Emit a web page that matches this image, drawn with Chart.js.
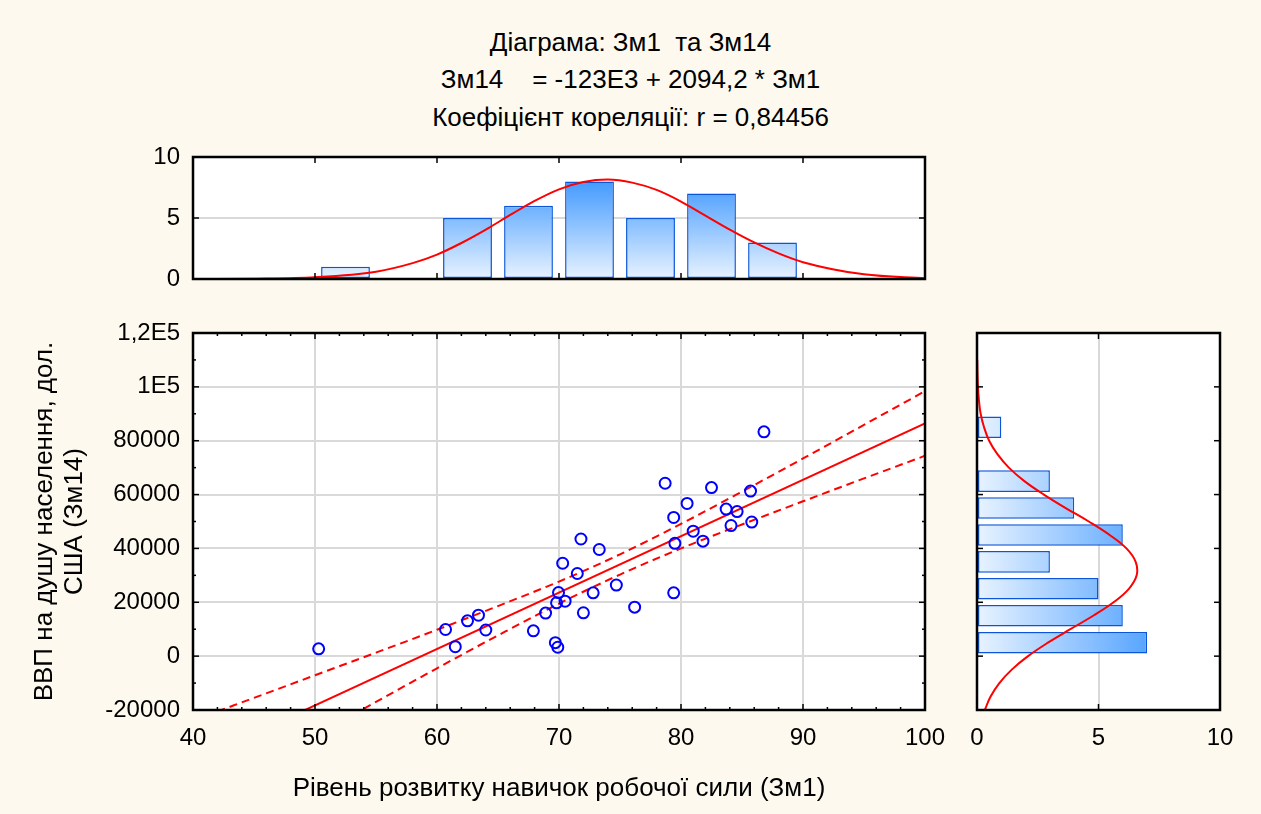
<!DOCTYPE html>
<html>
<head>
<meta charset="utf-8">
<script src="https://cdn.jsdelivr.net/npm/chart.js@4/dist/chart.umd.min.js"></script>
<style>
  html, body { margin: 0; padding: 0; background: #fdf9ee; }
  #page { position: relative; width: 1261px; height: 814px; overflow: hidden;
          font-family: 'Liberation Sans', Arial, sans-serif; }
  .ttl { position: absolute; left: 0; width: 1261px; text-align: center;
         font-size: 26px; line-height: 30px; white-space: pre; color: #000; }
  canvas { position: absolute; }
</style>
</head>
<body>
<div id="page">
  <div class="ttl" style="top:27px">Діаграма: Зм1  та Зм14</div>
  <div class="ttl" style="top:64px">Зм14    = -123E3 + 2094,2 * Зм1</div>
  <div class="ttl" style="top:102px">Коефіцієнт кореляції: r = 0,84456</div>
  <canvas id="topHist" width="960" height="170" style="left:0;top:130px;width:960px;height:170px"></canvas>
  <canvas id="scatter" width="960" height="514" style="left:0;top:300px;width:960px;height:514px"></canvas>
  <canvas id="sideHist" width="301" height="514" style="left:960px;top:300px;width:301px;height:514px"></canvas>
</div>
<script>
// --- scatter points (Зм1, Зм14) ---
const zm1 = [50.3, 60.7, 61.5, 62.5, 63.4, 64.0, 67.9, 68.9, 69.7, 69.9, 69.96, 69.8, 70.5, 70.3, 71.5,
             71.8, 72.0, 72.8, 73.3, 74.7, 76.2, 78.7, 79.4, 79.4, 79.5, 80.5, 81.0, 81.8, 82.5, 83.7,
             84.6, 84.1, 85.7, 85.8, 86.8];
const zm14 = [2700, 9900, 3500, 13100, 15200, 9700, 9400, 16000, 5000, 3300, 23600, 19800, 20400, 34500, 30700,
              43500, 16100, 23500, 39600, 26400, 18200, 64200, 51500, 23500, 41900, 56700, 46400, 42700, 62600, 54600,
              53700, 48500, 61300, 49800, 83300];

// regression line ends and 95% band
const regX = [40, 100];
const regY = [-39230, 86420];
const bandX = [40, 45, 50, 55, 60, 65, 70, 75, 80, 85, 90, 95, 100];
const bandUpper = [-23900, -15500, -7100, 1300, 9800, 18600, 27700, 37800, 49100, 61100, 73400, 85900, 98400];
const bandLower = [-54600, -42000, -29500, -17000, -4500, 7700, 19500, 30300, 40000, 48900, 57500, 66000, 74400];

// top histogram (Зм1)
const binMidX = [52.5, 57.5, 62.5, 67.5, 72.5, 77.5, 82.5, 87.5];
const countX = [1, 0, 5, 6, 8, 5, 7, 3];
const normX = [40, 45, 50, 55, 58, 60, 62, 64, 66, 68, 70, 72, 74, 76, 78, 80, 82, 84, 86, 88, 90, 95, 100];
const normXCount = [0.0, 0.03, 0.15, 0.6, 1.3, 2.0, 2.95, 4.05, 5.25, 6.4, 7.35, 7.95, 8.15, 7.9, 7.3, 6.35,
                    5.2, 4.05, 3.0, 2.1, 1.38, 0.38, 0.06];

// side histogram (Зм14)
const binMidY = [5000, 15000, 25000, 35000, 45000, 55000, 65000, 75000, 85000];
const countY = [7, 6, 5, 3, 6, 4, 3, 0, 1];
const normY = [-20000, -15000, -10000, -5000, 0, 5000, 10000, 15000, 20000, 25000, 30000, 35000, 40000,
               45000, 50000, 55000, 60000, 65000, 70000, 75000, 80000, 85000, 90000, 95000, 100000, 105000, 110000];
const normYCount = [0.32, 0.56, 0.92, 1.43, 2.1, 2.92, 3.84, 4.78, 5.62, 6.25, 6.57, 6.53, 6.15,
                    5.46, 4.6, 3.65, 2.75, 1.95, 1.31, 0.84, 0.5, 0.29, 0.15, 0.08, 0.04, 0.02, 0.01];

const yTickVals = [-20000, 0, 20000, 40000, 60000, 80000, 100000, 120000];
const yTickText = ['-20000', '0', '20000', '40000', '60000', '80000', '1E5', '1,2E5'];

Chart.defaults.font.family = "'Liberation Sans', Arial, sans-serif";
Chart.defaults.color = '#000';

const GRID = '#d9d9d9';
const RED = '#ff0000';
const BLUE = '#0000ff';

// white plot area, black frame and inward tick marks
const framePlugin = {
  id: 'frame',
  beforeDraw(chart) {
    const { ctx, chartArea: a } = chart;
    ctx.save();
    ctx.fillStyle = '#fff';
    ctx.fillRect(a.left, a.top, a.width, a.height);
    ctx.restore();
  },
  afterDraw(chart, args, o) {
    const { ctx, chartArea: a, scales } = chart;
    const line = (x1, y1, x2, y2) => { ctx.beginPath(); ctx.moveTo(x1, y1); ctx.lineTo(x2, y2); ctx.stroke(); };
    const isMajor = (v, m) => Math.abs(v / m - Math.round(v / m)) < 1e-6;
    ctx.save();
    ctx.strokeStyle = '#000';
    ctx.lineWidth = 1.5;
    const xs = scales.x, ys = scales.y;
    const nx = Math.round((xs.max - xs.min) / o.xStep);
    for (let i = 0; i <= nx; i++) {
      const v = xs.min + i * o.xStep;
      const len = isMajor(v, o.xMajor) ? 6 : 3;
      const px = xs.getPixelForValue(v);
      line(px, a.top, px, a.top + len);
      line(px, a.bottom, px, a.bottom - len);
    }
    const ny = Math.round((ys.max - ys.min) / o.yStep);
    for (let i = 0; i <= ny; i++) {
      const v = ys.min + i * o.yStep;
      const len = isMajor(v, o.yMajor) ? 6 : 3;
      const py = ys.getPixelForValue(v);
      line(a.left, py, a.left + len, py);
      line(a.right, py, a.right - len, py);
    }
    ctx.lineWidth = 2.5;
    ctx.strokeRect(a.left, a.top, a.width, a.height);
    ctx.restore();
  }
};
Chart.register(framePlugin);

function fixBox(prop, size) {
  return (s) => {
    s[prop] = size;
    s.paddingTop = 0; s.paddingBottom = 0; s.paddingLeft = 0; s.paddingRight = 0;
  };
}

function barFill(horizontal) {
  return (c) => {
    const a = c.chart.chartArea;
    if (!a) return '#7ab8ff';
    const g = horizontal
      ? c.chart.ctx.createLinearGradient(a.left, 0, a.right, 0)
      : c.chart.ctx.createLinearGradient(0, a.bottom, 0, a.top);
    g.addColorStop(0, '#e8f3ff');
    g.addColorStop(1, '#1a84ff');
    return g;
  };
}

const tickFont = { size: 24 };
const baseOpts = {
  responsive: false,
  animation: false,
  events: [],
  plugins: { legend: { display: false }, tooltip: { enabled: false } },
};

// ---- top histogram ----
new Chart(document.getElementById('topHist'), {
  type: 'bar',
  data: {
    datasets: [
      {
        type: 'line',
        data: normX.map((x, i) => ({ x, y: normXCount[i] })),
        borderColor: RED, borderWidth: 2, pointRadius: 0,
        cubicInterpolationMode: 'monotone', order: 0,
      },
      {
        data: binMidX.map((x, i) => ({ x, y: countX[i] })),
        backgroundColor: barFill(false),
        borderColor: '#0b55d8', borderWidth: 1.5, borderSkipped: false,
        barPercentage: 1, categoryPercentage: 0.8, order: 1,
      },
    ],
  },
  options: {
    ...baseOpts,
    layout: { padding: { top: 27, right: 35, bottom: 21, left: 0 } },
    plugins: { ...baseOpts.plugins, frame: { xStep: 10, xMajor: 10, yStep: 5, yMajor: 5 } },
    scales: {
      x: {
        type: 'linear', min: 40, max: 100, offset: false,
        ticks: { display: false, stepSize: 10 },
        grid: { display: false, offset: false }, border: { display: false },
        afterFit: fixBox('height', 0),
      },
      y: {
        min: 0, max: 10, offset: false,
        ticks: { stepSize: 5, font: tickFont, padding: 13 },
        grid: { color: (c) => (c.tick && c.tick.value === 5 ? GRID : 'rgba(0,0,0,0)'), lineWidth: 2, drawTicks: false },
        border: { display: false },
        afterFit: fixBox('width', 193),
      },
    },
  },
});

// ---- scatter ----
new Chart(document.getElementById('scatter'), {
  type: 'scatter',
  data: {
    datasets: [
      {
        data: zm1.map((x, i) => ({ x, y: zm14[i] })),
        pointRadius: 5.5, pointBorderWidth: 2, pointBorderColor: BLUE,
        pointBackgroundColor: 'rgba(0,0,0,0)', showLine: false,
      },
      {
        data: regX.map((x, i) => ({ x, y: regY[i] })),
        showLine: true, borderColor: RED, borderWidth: 2, pointRadius: 0,
      },
      {
        data: bandX.map((x, i) => ({ x, y: bandUpper[i] })),
        showLine: true, borderColor: RED, borderWidth: 2, borderDash: [8, 5], pointRadius: 0,
        cubicInterpolationMode: 'monotone',
      },
      {
        data: bandX.map((x, i) => ({ x, y: bandLower[i] })),
        showLine: true, borderColor: RED, borderWidth: 2, borderDash: [8, 5], pointRadius: 0,
        cubicInterpolationMode: 'monotone',
      },
    ],
  },
  options: {
    ...baseOpts,
    layout: { padding: { top: 33, right: 35, bottom: 0, left: 0 } },
    plugins: { ...baseOpts.plugins, frame: { xStep: 2, xMajor: 10, yStep: 10000, yMajor: 20000 } },
    scales: {
      x: {
        type: 'linear', min: 40, max: 100,
        ticks: { stepSize: 10, font: tickFont, padding: 14 },
        grid: { color: GRID, lineWidth: 2, drawTicks: false },
        border: { display: false },
        title: {
          display: true, text: 'Рівень розвитку навичок робочої сили (Зм1)',
          font: { size: 26, lineHeight: 1.2 }, padding: { top: 0, bottom: 10 },
        },
        afterFit: fixBox('height', 104),
      },
      y: {
        type: 'linear', min: -20000, max: 120000,
        ticks: {
          stepSize: 20000, font: tickFont, padding: 13,
          callback: (v) => { const i = yTickVals.indexOf(v); return i >= 0 ? yTickText[i] : ''; },
        },
        grid: { color: GRID, lineWidth: 2, drawTicks: false },
        border: { display: false },
        title: {
          display: true, text: ['ВВП на душу населення, дол.', 'США (Зм14)'],
          font: { size: 26, lineHeight: 1.15 }, padding: { top: 30, bottom: 0 },
        },
        afterFit: fixBox('width', 193),
      },
    },
  },
});

// ---- side histogram ----
new Chart(document.getElementById('sideHist'), {
  type: 'bar',
  data: {
    datasets: [
      {
        type: 'line',
        data: normY.map((y, i) => ({ x: normYCount[i], y })),
        borderColor: RED, borderWidth: 2, pointRadius: 0, tension: 0.4, order: 0,
      },
      {
        indexAxis: 'y',
        data: binMidY.map((y, i) => ({ x: countY[i], y })),
        backgroundColor: barFill(true),
        borderColor: '#0b55d8', borderWidth: 1.5, borderSkipped: false,
        barPercentage: 1, categoryPercentage: 0.8, order: 1,
      },
    ],
  },
  options: {
    ...baseOpts,
    layout: { padding: { top: 33, right: 41, bottom: 0, left: 0 } },
    plugins: { ...baseOpts.plugins, frame: { xStep: 5, xMajor: 5, yStep: 20000, yMajor: 20000 } },
    scales: {
      x: {
        type: 'linear', min: 0, max: 10, offset: false,
        ticks: { stepSize: 5, font: tickFont, padding: 14 },
        grid: { color: (c) => (c.tick && c.tick.value === 5 ? GRID : 'rgba(0,0,0,0)'), lineWidth: 2, drawTicks: false, offset: false },
        border: { display: false },
        afterFit: fixBox('height', 104),
      },
      y: {
        type: 'linear', min: -20000, max: 120000, offset: false,
        ticks: { display: false, stepSize: 20000 },
        grid: { display: false, offset: false }, border: { display: false },
        afterFit: fixBox('width', 17),
      },
    },
  },
});
</script>
</body>
</html>
